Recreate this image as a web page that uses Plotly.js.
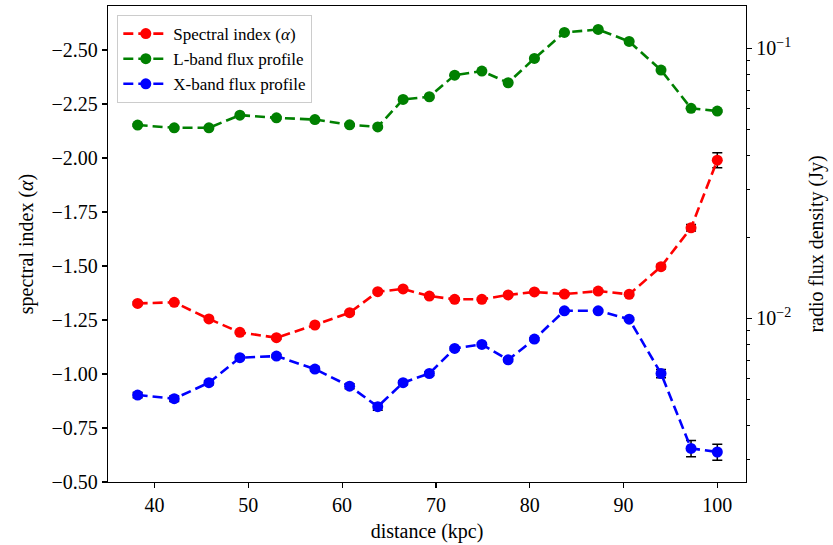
<!DOCTYPE html>
<html>
<head>
<meta charset="utf-8">
<script src="https://cdn.plot.ly/plotly-3.0.1.min.js"></script>
<style>html,body{margin:0;padding:0;background:#fff;}#chart{width:833px;height:545px;}</style>
</head>
<body>
<div id="chart"></div>
<script>
const distance = [38.2, 42.1, 45.8, 49.1, 53.0, 57.1, 60.8, 63.8, 66.5, 69.3, 72.0, 74.9, 77.7, 80.5, 83.7, 87.3, 90.6, 94.0, 97.2, 100.0];
const alpha = [-1.327, -1.332, -1.255, -1.193, -1.168, -1.227, -1.284, -1.381, -1.394, -1.361, -1.346, -1.346, -1.366, -1.380, -1.370, -1.384, -1.369, -1.497, -1.677, -1.990];
const alphaErr = [0.006, 0.006, 0.006, 0.006, 0.006, 0.006, 0.006, 0.006, 0.006, 0.006, 0.006, 0.006, 0.006, 0.006, 0.006, 0.006, 0.007, 0.010, 0.015, 0.035];
const lband = [0.0520, 0.0508, 0.0508, 0.0566, 0.0553, 0.0545, 0.0521, 0.0512, 0.0647, 0.0662, 0.0796, 0.0824, 0.0746, 0.0918, 0.1146, 0.1175, 0.1061, 0.0831, 0.0600, 0.0586];
const lbandErr = [0.0005, 0.0005, 0.0005, 0.0005, 0.0005, 0.0005, 0.0005, 0.0005, 0.0005, 0.0005, 0.0005, 0.0005, 0.0005, 0.0005, 0.0006, 0.0006, 0.0006, 0.0005, 0.0005, 0.0005];
const xband = [0.00520, 0.00504, 0.00578, 0.00715, 0.00725, 0.00649, 0.00561, 0.00471, 0.00578, 0.00625, 0.00774, 0.00801, 0.00702, 0.00838, 0.01067, 0.01067, 0.00993, 0.00625, 0.00330, 0.00320];
const xbandErr = [0.00012, 0.00012, 0.0001, 0.0001, 0.0001, 0.0001, 0.00012, 0.00014, 0.0001, 0.0001, 0.0001, 0.0001, 0.0001, 0.0001, 0.0001, 0.0001, 0.0001, 0.00022, 0.00023, 0.00022];
const seriesNames = ["Spectral index (<i>α</i>)", "L-band flux profile", "X-band flux profile"];
const leftTicks = [-2.5, -2.25, -2.0, -1.75, -1.5, -1.25, -1.0, -0.75, -0.5];
const rightTicks = [0.01, 0.1];
const rightTickText = ["10<sup>−2</sup>", "10<sup>−1</sup>"];
const rightMinor = [0.003, 0.004, 0.005, 0.006, 0.007, 0.008, 0.009, 0.02, 0.03, 0.04, 0.05, 0.06, 0.07, 0.08, 0.09];

const FONT = "'Liberation Serif', 'Times New Roman', serif";
function trace(y, err, name, color, axis) {
  return {
    x: distance, y: y, name: name, yaxis: axis, type: 'scatter', mode: 'lines+markers',
    line: {color: color, width: 2.6, dash: '10px,5px'},
    marker: {color: color, size: 11},
    error_y: {type: 'data', array: err, visible: true, color: 'black', thickness: 1.5, width: 5}
  };
}
const data = [
  trace(alpha, alphaErr, seriesNames[0], '#ff0000', 'y'),
  trace(lband, lbandErr, seriesNames[1], '#008000', 'y2'),
  trace(xband, xbandErr, seriesNames[2], '#0000ff', 'y2')
];
const axisCommon = {showline: true, linecolor: 'black', linewidth: 1.3, ticks: 'outside', ticklen: 5, tickwidth: 1.2, tickcolor: 'black', showgrid: false, zeroline: false, tickfont: {family: FONT, size: 20, color: 'black'}};
const layout = {
  width: 833, height: 545,
  margin: {l: 108, r: 87, t: 6, b: 63},
  paper_bgcolor: 'white', plot_bgcolor: 'white',
  font: {family: FONT, color: 'black'},
  showlegend: true,
  legend: {x: 0.0146, y: 0.981, xanchor: 'left', yanchor: 'top', bgcolor: 'rgba(255,255,255,0.8)', bordercolor: '#cccccc', borderwidth: 1, itemwidth: 45, font: {family: FONT, size: 17, color: 'black'}, tracegroupgap: 0},
  xaxis: Object.assign({}, axisCommon, {range: [35.04, 103.06], mirror: true, dtick: 10, tick0: 40,
    title: {text: 'distance (kpc)', font: {family: FONT, size: 20, color: 'black'}, standoff: 8}}),
  yaxis: Object.assign({}, axisCommon, {range: [-0.5, -2.704], tickvals: leftTicks, tickformat: '.2f',
    title: {text: 'spectral index (<i>α</i>)', font: {family: FONT, size: 20, color: 'black'}, standoff: 12}}),
  yaxis2: Object.assign({}, axisCommon, {type: 'log', overlaying: 'y', side: 'right', range: [-2.606, -0.843],
    tickvals: rightTicks, ticktext: rightTickText,
    minor: {tickmode: 'array', tickvals: rightMinor, ticks: 'outside', ticklen: 3, tickwidth: 1, tickcolor: 'black', showgrid: false},
    title: {text: 'radio flux density (Jy)', font: {family: FONT, size: 20, color: 'black'}, standoff: 18}})
};
Plotly.newPlot('chart', data, layout, {displayModeBar: false, staticPlot: true});
</script>
</body>
</html>
